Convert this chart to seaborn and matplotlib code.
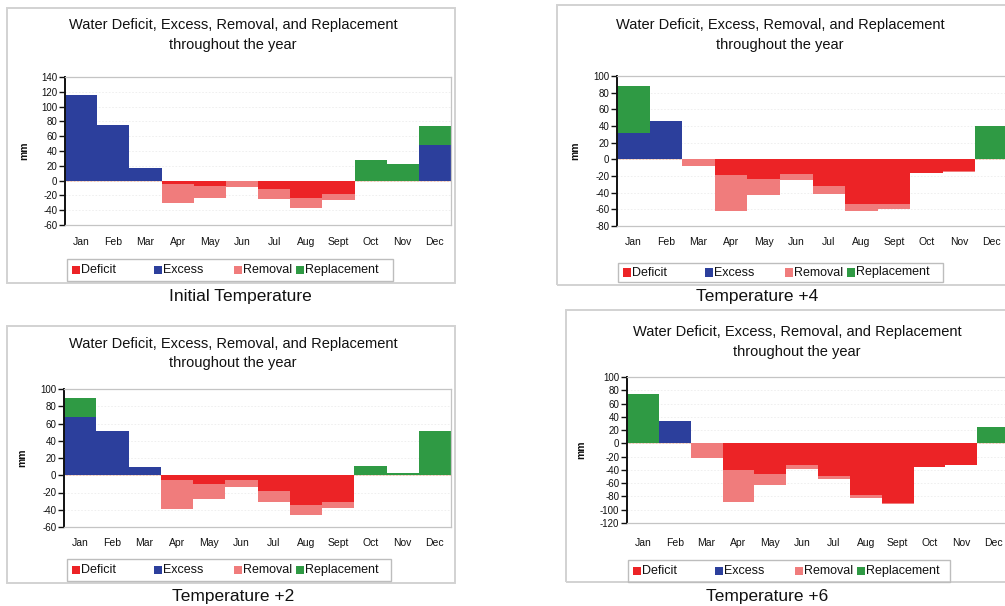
import numpy as np
import pandas as pd
import matplotlib.pyplot as plt
from matplotlib.patches import Rectangle
import seaborn as sns

# ── Data (mm per month) ───────────────────────────────────────────────────────
# removal is stacked below deficit, replacement is stacked above excess

months = ["Jan", "Feb", "Mar", "Apr", "May", "Jun", "Jul", "Aug", "Sept", "Oct", "Nov", "Dec"]

init_deficit = [0, 0, 0, 5, 7, 1, 12, 23, 18, 0, 0, 0]
init_removal = [0, 0, 0, 25, 16, 8, 13, 14, 8, 0, 0, 0]
init_excess = [116, 75, 17, 0, 0, 0, 0, 0, 0, 0, 0, 48]
init_replace = [0, 0, 0, 0, 0, 0, 0, 0, 0, 28, 22, 26]

t2_deficit = [0, 0, 0, 6, 10, 6, 18, 34, 31, 0, 0, 0]
t2_removal = [0, 0, 0, 33, 17, 8, 13, 12, 7, 0, 0, 0]
t2_excess = [67, 51, 10, 0, 0, 0, 0, 0, 0, 0, 0, 0]
t2_replace = [23, 0, 0, 0, 0, 0, 0, 0, 0, 11, 3, 51]

t4_deficit = [0, 0, 0, 19, 24, 18, 32, 54, 54, 17, 14, 0]
t4_removal = [0, 0, 8, 43, 19, 7, 10, 8, 5, 0, 1, 0]
t4_excess = [31, 46, 0, 0, 0, 0, 0, 0, 0, 0, 0, 0]
t4_replace = [57, 0, 0, 0, 0, 0, 0, 0, 0, 0, 0, 40]

t6_deficit = [0, 0, 0, 40, 46, 33, 49, 78, 90, 36, 32, 0]
t6_removal = [0, 0, 22, 49, 16, 6, 5, 5, 2, 0, 0, 0]
t6_excess = [0, 34, 0, 0, 0, 0, 0, 0, 0, 0, 0, 0]
t6_replace = [74, 0, 0, 0, 0, 0, 0, 0, 0, 0, 0, 25]

series_names = ["Deficit", "Excess", "Removal", "Replacement"]
colors = {"Deficit": "#ec2326", "Excess": "#2c3f9c", "Removal": "#f07c7c", "Replacement": "#2f9a44"}

# ── Setup ──────────────────────────────────────────────────────────────────────

sns.set_theme(style="white")
plt.rcParams["font.family"] = ["Liberation Sans", "DejaVu Sans"]
plt.rcParams["axes.unicode_minus"] = False

W, H = 1005, 606
fig = plt.figure(figsize=(W / 100, H / 100), dpi=100)


def fx(x):
    return x / W


def fy(y):
    return 1 - y / H


# layout of each panel in pixels of the final picture
panels = [
    dict(data=(init_deficit, init_removal, init_excess, init_replace),
         box=(7, 8, 455, 283), ax=(65, 77, 451, 225), ylim=(-60, 140),
         title=(233, 25, 45), legend=(67, 259, 393, 281),
         caption=("Initial Temperature", 240, 297), ylab_x=29, pad=8.3),
    dict(data=(t4_deficit, t4_removal, t4_excess, t4_replace),
         box=(557, 5, 1012, 285), ax=(617, 76, 1008, 226), ylim=(-80, 100),
         title=(780, 25, 45), legend=(618, 263, 943, 282),
         caption=("Temperature +4", 757, 297), ylab_x=580, pad=7.7),
    dict(data=(t2_deficit, t2_removal, t2_excess, t2_replace),
         box=(7, 326, 455, 583), ax=(64, 389, 451, 527), ylim=(-60, 100),
         title=(233, 344, 363), legend=(67, 559, 391, 581),
         caption=("Temperature +2", 233, 597), ylab_x=27, pad=7.7),
    dict(data=(t6_deficit, t6_removal, t6_excess, t6_replace),
         box=(566, 310, 1012, 582), ax=(627, 377, 1009, 523), ylim=(-120, 100),
         title=(797, 332, 352), legend=(628, 560, 950, 582),
         caption=("Temperature +6", 767, 597), ylab_x=586, pad=10.7),
]

legend_offsets = [5, 87, 167, 229]


def draw_panel(p):
    deficit, removal, excess, replace = [np.array(a, dtype=float) for a in p["data"]]

    # outer chart box
    x0, y0, x1, y1 = p["box"]
    fig.patches.append(Rectangle((fx(x0), fy(y1)), fx(x1) - fx(x0), fy(y0) - fy(y1),
                                 transform=fig.transFigure, fill=False,
                                 edgecolor="#d2d2d2", lw=1.4))

    l, t, r, b = p["ax"]
    ax = fig.add_axes([fx(l), fy(b), fx(r) - fx(l), fy(t) - fy(b)])

    # totals first, then the inner layer painted over them
    layers = [(-(deficit + removal), "Removal"), (-deficit, "Deficit"),
              (excess + replace, "Replacement"), (excess, "Excess")]
    for vals, name in layers:
        sns.barplot(x=months, y=vals, order=months, color=colors[name], saturation=1,
                    width=1, linewidth=0, errorbar=None, ax=ax)

    ymin, ymax = p["ylim"]
    ax.set_ylim(ymin, ymax)
    ax.set_xlim(-0.5, 11.5)
    ax.set_yticks(np.arange(ymin, ymax + 1, 20))
    ax.set_axisbelow(True)
    ax.yaxis.grid(True, color="#ededed", ls=(0, (2, 2)), lw=0.6)
    ax.axhline(0, color="#f2b9a0", lw=0.6, zorder=0.5)

    for side in ["top", "right", "bottom"]:
        ax.spines[side].set_color("#c4c4c4")
        ax.spines[side].set_linewidth(0.9)
    ax.spines["left"].set_color("#111111")
    ax.spines["left"].set_linewidth(1.4)

    ax.tick_params(axis="y", left=True, length=4, width=1, color="#111111",
                   labelsize=7, labelcolor="#111111", pad=1.5)
    ax.tick_params(axis="x", bottom=False, length=0, labelsize=7.5,
                   labelcolor="#111111", pad=p["pad"])

    ax.set_xlabel("")
    ax.set_ylabel("mm", fontsize=7.5, fontweight="bold", color="#111111")
    ax.yaxis.set_label_coords((p["ylab_x"] - l) / (r - l), 0.5)

    # title, two lines
    tx, ty1, ty2 = p["title"]
    fig.text(fx(tx), fy(ty1), "Water Deficit, Excess, Removal, and Replacement",
             ha="center", va="center", fontsize=10.5, color="#111111")
    fig.text(fx(tx), fy(ty2), "throughout the year",
             ha="center", va="center", fontsize=10.5, color="#111111")

    # legend box drawn Excel-style with equal columns
    lx0, ly0, lx1, ly1 = p["legend"]
    fig.patches.append(Rectangle((fx(lx0), fy(ly1)), fx(lx1) - fx(lx0), fy(ly0) - fy(ly1),
                                 transform=fig.transFigure, fill=False,
                                 edgecolor="#bdbdbd", lw=1.0))
    ly = (ly0 + ly1) / 2
    for off, name in zip(legend_offsets, series_names):
        sx = lx0 + off
        fig.patches.append(Rectangle((fx(sx), fy(ly + 4)), fx(8), 8 / H,
                                     transform=fig.transFigure, color=colors[name], lw=0))
        fig.text(fx(sx + 9), fy(ly), name, ha="left", va="center",
                 fontsize=9, color="#111111")

    text, cx, cy = p["caption"]
    fig.text(fx(cx), fy(cy), text, ha="center", va="center", fontsize=12.5, color="#111111")


for p in panels:
    draw_panel(p)

fig.savefig("out.png", dpi=100)
print("saved: out.png")
